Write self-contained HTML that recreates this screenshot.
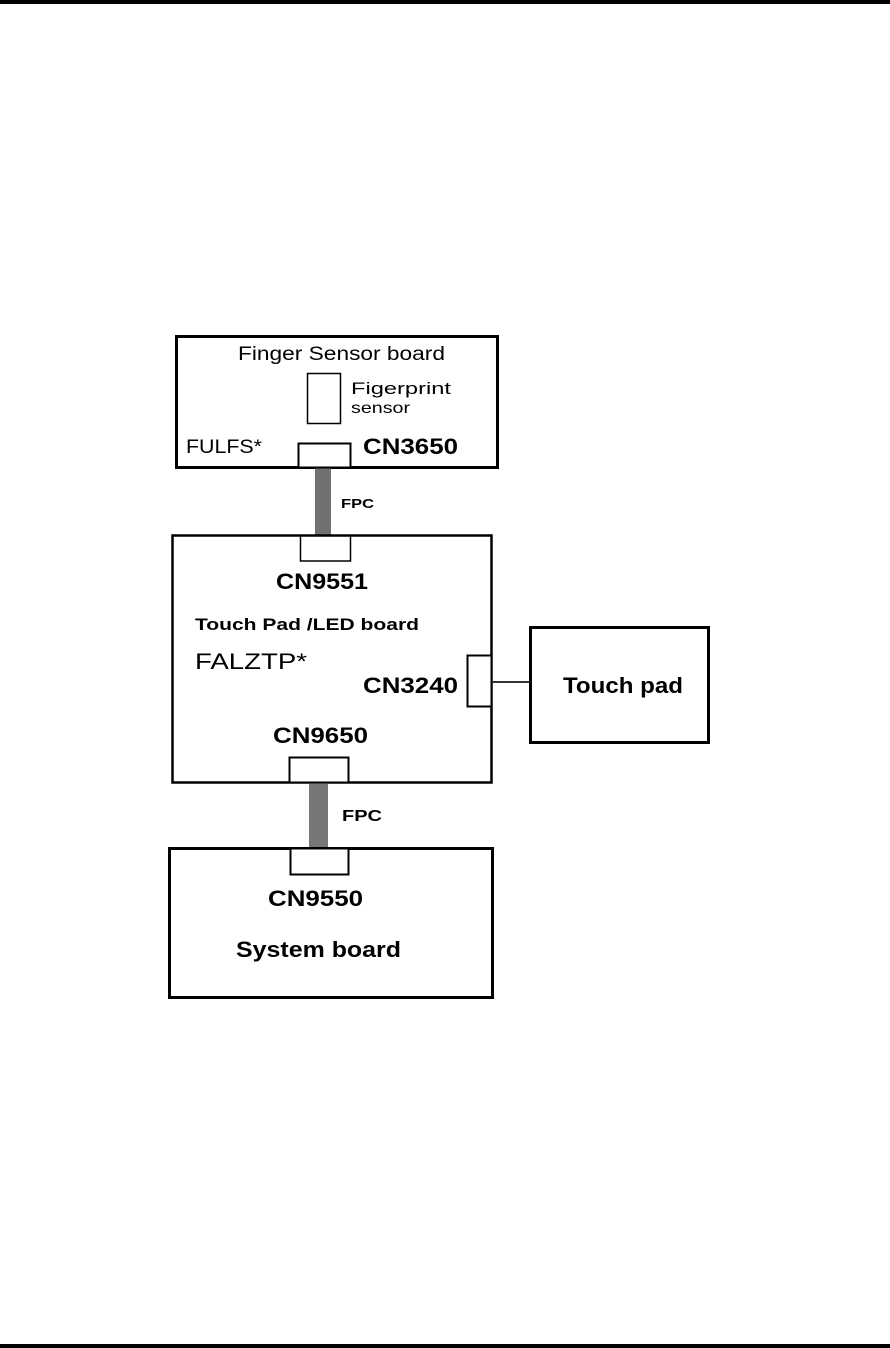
<!DOCTYPE html>
<html><head><meta charset="utf-8"><style>
html,body{margin:0;padding:0;background:#fff;}
svg{display:block;}
text{font-family:"Liberation Sans",sans-serif;fill:#000;}
</style></head><body>
<svg width="890" height="1348" viewBox="0 0 890 1348" xmlns="http://www.w3.org/2000/svg">
<rect x="0" y="0" width="890" height="4" fill="#000"/>
<rect x="0" y="1344" width="890" height="4" fill="#000"/>

<!-- Finger sensor board -->
<rect x="176.5" y="336.5" width="321" height="131" fill="none" stroke="#000" stroke-width="3"/>
<rect x="307.5" y="373.5" width="33" height="50" fill="none" stroke="#000" stroke-width="1.5"/>
<text x="238" y="360" font-size="19" textLength="207" lengthAdjust="spacingAndGlyphs">Finger Sensor board</text>
<text x="351" y="394" font-size="17" textLength="100" lengthAdjust="spacingAndGlyphs">Figerprint</text>
<text x="351" y="413" font-size="16" textLength="59" lengthAdjust="spacingAndGlyphs">sensor</text>
<text x="186" y="453" font-size="19" textLength="76" lengthAdjust="spacingAndGlyphs">FULFS*</text>
<text x="363" y="454" font-size="22" font-weight="bold" textLength="95" lengthAdjust="spacingAndGlyphs">CN3650</text>

<!-- FPC 1 -->
<rect x="315" y="467" width="16" height="69" fill="#707070"/>
<text x="341" y="508" font-size="13" font-weight="bold" textLength="33" lengthAdjust="spacingAndGlyphs">FPC</text>
<rect x="298.5" y="443.5" width="52" height="24" fill="#fff" stroke="#000" stroke-width="2"/>

<!-- Touch pad / LED board -->
<rect x="172.5" y="535.5" width="319" height="247" fill="none" stroke="#000" stroke-width="2.5"/>
<rect x="300.5" y="536" width="50" height="25" fill="#fff" stroke="#000" stroke-width="1.5"/>
<text x="276" y="589" font-size="22" font-weight="bold" textLength="92" lengthAdjust="spacingAndGlyphs">CN9551</text>
<text x="195" y="630" font-size="17" font-weight="bold" textLength="224" lengthAdjust="spacingAndGlyphs">Touch Pad /LED  board</text>
<text x="195" y="669" font-size="22" textLength="112" lengthAdjust="spacingAndGlyphs">FALZTP*</text>
<text x="363" y="693" font-size="22" font-weight="bold" textLength="95" lengthAdjust="spacingAndGlyphs">CN3240</text>
<rect x="467.5" y="655.5" width="24" height="51" fill="#fff" stroke="#000" stroke-width="2"/>
<line x1="492" y1="682" x2="531" y2="682" stroke="#333" stroke-width="2"/>
<text x="273" y="743" font-size="22" font-weight="bold" textLength="95" lengthAdjust="spacingAndGlyphs">CN9650</text>
<rect x="289.5" y="757.5" width="59" height="25" fill="#fff" stroke="#000" stroke-width="2"/>

<!-- Touch pad -->
<rect x="530.5" y="627.5" width="178" height="115" fill="none" stroke="#000" stroke-width="3"/>
<text x="563" y="693" font-size="22" font-weight="bold" textLength="120" lengthAdjust="spacingAndGlyphs">Touch pad</text>

<!-- FPC 2 -->
<rect x="309" y="784" width="19" height="64" fill="#777"/>
<text x="342" y="821" font-size="16" font-weight="bold" textLength="40" lengthAdjust="spacingAndGlyphs">FPC</text>

<!-- System board -->
<rect x="169.5" y="848.5" width="323" height="149" fill="none" stroke="#000" stroke-width="3"/>
<rect x="290.5" y="848.5" width="58" height="26" fill="#fff" stroke="#000" stroke-width="2"/>
<text x="268" y="906" font-size="22" font-weight="bold" textLength="95" lengthAdjust="spacingAndGlyphs">CN9550</text>
<text x="236" y="957" font-size="22" font-weight="bold" textLength="165" lengthAdjust="spacingAndGlyphs">System board</text>
</svg>
</body></html>
